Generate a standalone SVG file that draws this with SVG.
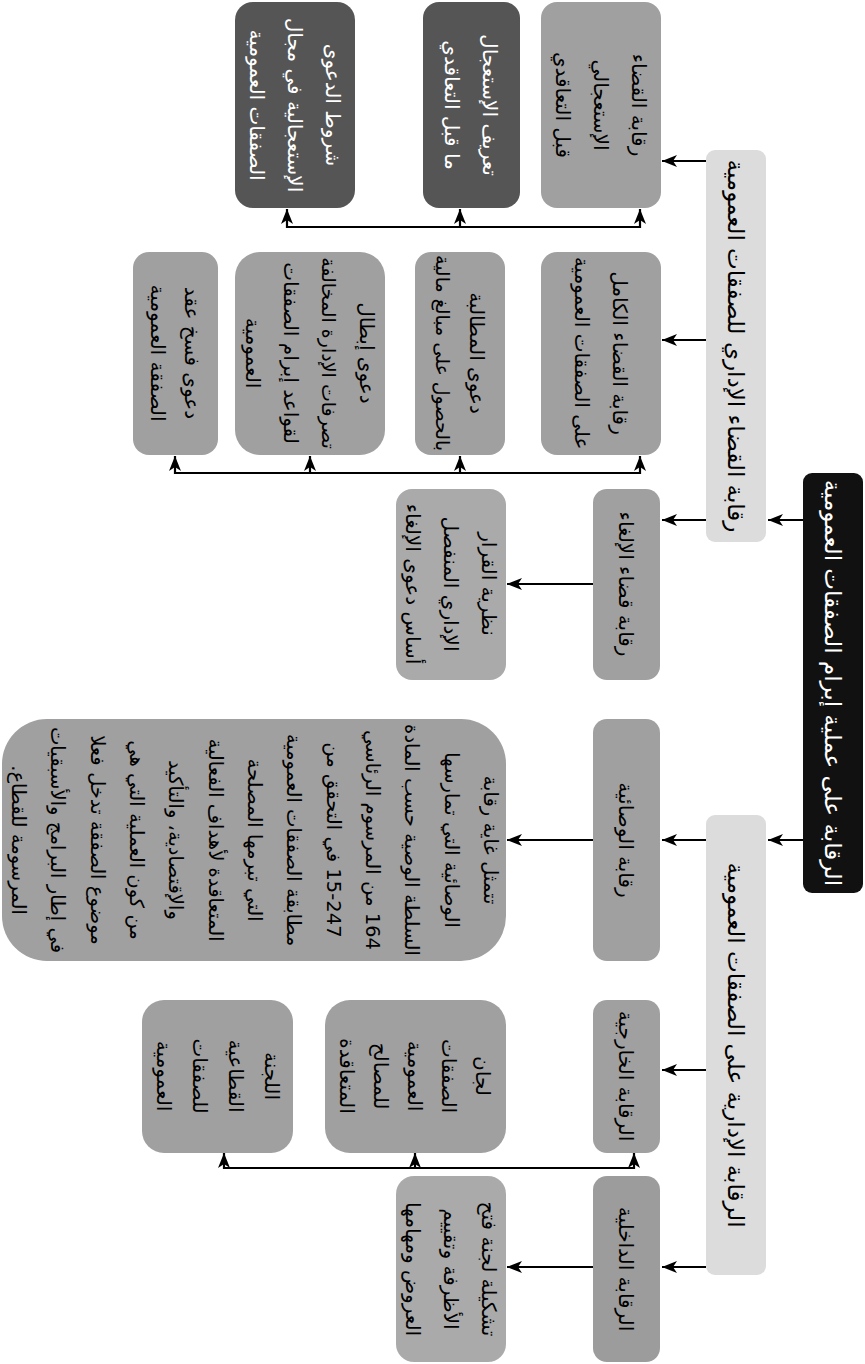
<svg xmlns="http://www.w3.org/2000/svg" width="865" height="1364" viewBox="0 0 865 1364">
<style>
text{font-family:"DejaVu Sans",sans-serif;text-anchor:middle;dominant-baseline:central;direction:rtl;fill:#000}
.t20{font-size:20px}
.t19{font-size:19px}
.t195{font-size:19.6px}
.t23{font-size:23px}
.w{fill:#fff}
.root{fill:#111}
.l1{fill:#dcdcdc}
.g{fill:#a0a0a0}
.g2{fill:#9c9c9c}
.lg{fill:#aaaaaa}
.dk{fill:#555555}
.c{fill:none;stroke:#000;stroke-width:2.2}
</style>
<defs>
<marker id="ah" markerUnits="userSpaceOnUse" markerWidth="16" markerHeight="12" refX="15" refY="6" orient="auto-start-reverse" viewBox="0 0 16 12">
<path d="M0,0 L15,6 L0,12 L4,6 Z" fill="#000"/>
</marker>
</defs>
<rect width="865" height="1364" fill="#fff"/>

<g id="connectors">
<path class="c" d="M803,520 H768" marker-end="url(#ah)"/>
<path class="c" d="M803,840 H768" marker-end="url(#ah)"/>
<path class="c" d="M706,161 H662" marker-end="url(#ah)"/>
<path class="c" d="M706,340 H662" marker-end="url(#ah)"/>
<path class="c" d="M706,520 H662" marker-end="url(#ah)"/>
<path class="c" d="M593,584 H507" marker-end="url(#ah)"/>
<path class="c" d="M706,840 H662" marker-end="url(#ah)"/>
<path class="c" d="M593,840 H507" marker-end="url(#ah)"/>
<path class="c" d="M706,1070 H662" marker-end="url(#ah)"/>
<path class="c" d="M706,1267 H662" marker-end="url(#ah)"/>
<path class="c" d="M593,1267 H507" marker-end="url(#ah)"/>
<path class="c" d="M640,209 V227 H287 V209" marker-start="url(#ah)" marker-end="url(#ah)"/>
<path class="c" d="M460,227 V209" marker-end="url(#ah)"/>
<path class="c" d="M640,456 V473 H175 V456" marker-start="url(#ah)" marker-end="url(#ah)"/>
<path class="c" d="M460,473 V456" marker-end="url(#ah)"/>
<path class="c" d="M310,473 V456" marker-end="url(#ah)"/>
<path class="c" d="M634,1153 V1168 H224 V1153" marker-start="url(#ah)" marker-end="url(#ah)"/>
<path class="c" d="M415,1168 V1153" marker-end="url(#ah)"/>
</g>

<g id="root">
<rect class="root" x="803" y="473" width="60" height="420" rx="9"/>
<g transform="translate(833,683) rotate(90)"><text class="t23 w" x="0" y="0">الرقابة على عملية إبرام الصفقات العمومية</text></g>
</g>

<g id="n-judicial">
<rect class="l1" x="706" y="150" width="60" height="392" rx="9"/>
<g transform="translate(736,346) rotate(90)"><text class="t23" x="0" y="0">رقابة القضاء الإداري للصفقات العمومية</text></g>
</g>

<g id="n-admin">
<rect class="l1" x="706" y="815" width="60" height="460" rx="9"/>
<g transform="translate(736,1045) rotate(90)"><text class="t23" x="0" y="0">الرقابة الإدارية على الصفقات العمومية</text></g>
</g>

<g id="n-urgent">
<rect class="g" x="541" y="2" width="120" height="206" rx="16"/>
<g transform="translate(601,105) rotate(90)"><text class="t20" x="0" y="-38">رقابة القضاء</text><text class="t20" x="0" y="0">الإستعجالي</text><text class="t20" x="0" y="38">قبل التعاقدي</text></g>
</g>

<g id="n-urgent-def">
<rect class="dk" x="423" y="2" width="97" height="206" rx="16"/>
<g transform="translate(471,105) rotate(90)"><text class="t20 w" x="0" y="-19">تعريف الإستعجال</text><text class="t20 w" x="0" y="19">ما قبل التعاقدي</text></g>
</g>

<g id="n-urgent-cond">
<rect class="dk" x="235" y="2" width="120" height="206" rx="18"/>
<g transform="translate(295,105) rotate(90)"><text class="t20 w" x="0" y="-38">شروط الدعوى</text><text class="t20 w" x="0" y="0">الإستعجالية في مجال</text><text class="t20 w" x="0" y="38">الصفقات العمومية</text></g>
</g>

<g id="n-full">
<rect class="g" x="541" y="252" width="120" height="203" rx="16"/>
<g transform="translate(601,353) rotate(90)"><text class="t20" x="0" y="-19">رقابة القضاء الكامل</text><text class="t20" x="0" y="19">على الصفقات العمومية</text></g>
</g>

<g id="n-claim">
<rect class="g" x="415" y="252" width="90" height="203" rx="16"/>
<g transform="translate(460,353) rotate(90)"><text class="t20" x="0" y="-17">دعوى المطالبة</text><text class="t19" x="0" y="17">بالحصول على مبالغ مالية</text></g>
</g>

<g id="n-nullity">
<rect class="g" x="235" y="252" width="150" height="203" rx="25"/>
<g transform="translate(310,353) rotate(90)"><text class="t20" x="0" y="-57">دعوى إبطال</text><text class="t19" x="0" y="-19">تصرفات الإدارة المخالفة</text><text class="t20" x="0" y="19">لقواعد إبرام الصفقات</text><text class="t20" x="0" y="57">العمومية</text></g>
</g>

<g id="n-rescission">
<rect class="g" x="133" y="252" width="85" height="203" rx="16"/>
<g transform="translate(175,353) rotate(90)"><text class="t20" x="0" y="-17">دعوى فسخ عقد</text><text class="t20" x="0" y="17">الصفقة العمومية</text></g>
</g>

<g id="n-annul">
<rect class="g" x="593" y="489" width="67" height="191" rx="14"/>
<g transform="translate(626,584) rotate(90)"><text class="t20" x="0" y="0">رقابة قضاء الإلغاء</text></g>
</g>

<g id="n-theory">
<rect class="lg" x="396" y="489" width="110" height="191" rx="16"/>
<g transform="translate(451,584) rotate(90)"><text class="t20" x="0" y="-38">نظرية القرار</text><text class="t20" x="0" y="0">الإداري المنفصل</text><text class="t20" x="0" y="38">أساس دعوى الإلغاء</text></g>
</g>

<g id="n-tutelle">
<rect class="g" x="593" y="719" width="67" height="242" rx="14"/>
<g transform="translate(626,840) rotate(90)"><text class="t20" x="0" y="0">رقابة الوصائية</text></g>
</g>

<g id="n-tutelle-desc">
<rect class="g" x="2" y="719" width="504" height="242" rx="45"/>
<g transform="translate(254,840) rotate(90)">
<text class="t195" x="0" y="-236">تتمثل غاية رقابة</text>
<text class="t195" x="0" y="-197">الوصائية التي تمارسها</text>
<text class="t195" x="0" y="-157">السلطة الوصية حسب المادة</text>
<text class="t195" x="0" y="-118">164 من المرسوم الرئاسي</text>
<text class="t195" x="0" y="-79">15-247 في التحقق من</text>
<text class="t195" x="0" y="-39">مطابقة الصفقات العمومية</text>
<text class="t195" x="0" y="0">التي تبرمها المصلحة</text>
<text class="t195" x="0" y="39">المتعاقدة لأهداف الفعالية</text>
<text class="t195" x="0" y="79">والإقتصادية، والتأكيد</text>
<text class="t195" x="0" y="118">من كون العملية التي هي</text>
<text class="t195" x="0" y="157">موضوع الصفقة تدخل فعلا</text>
<text class="t195" x="0" y="197">في إطار البرامج والأسبقيات</text>
<text class="t195" x="0" y="236">المرسومة للقطاع.</text>
</g>
</g>

<g id="n-external">
<rect class="g" x="593" y="1000" width="67" height="153" rx="14"/>
<g transform="translate(626,1076) rotate(90)"><text class="t20" x="0" y="0">الرقابة الخارجية</text></g>
</g>

<g id="n-committees">
<rect class="g" x="325" y="1000" width="181" height="153" rx="25"/>
<g transform="translate(415,1076) rotate(90)"><text class="t20" x="0" y="-68">لجان</text><text class="t20" x="0" y="-34">الصفقات</text><text class="t20" x="0" y="0">العمومية</text><text class="t20" x="0" y="34">للمصالح</text><text class="t20" x="0" y="68">المتعاقدة</text></g>
</g>

<g id="n-sectoral">
<rect class="g" x="142" y="1000" width="151" height="153" rx="22"/>
<g transform="translate(218,1076) rotate(90)"><text class="t20" x="0" y="-54">اللجنة</text><text class="t20" x="0" y="-18">القطاعية</text><text class="t20" x="0" y="18">للصفقات</text><text class="t20" x="0" y="54">العمومية</text></g>
</g>

<g id="n-internal">
<rect class="g2" x="593" y="1176" width="67" height="186" rx="14"/>
<g transform="translate(626,1269) rotate(90)"><text class="t20" x="0" y="0">الرقابة الداخلية</text></g>
</g>

<g id="n-opening">
<rect class="lg" x="396" y="1176" width="110" height="186" rx="18"/>
<g transform="translate(451,1269) rotate(90)"><text class="t20" x="0" y="-38">تشكيلة لجنة فتح</text><text class="t20" x="0" y="0">الأظرفة وتقييم</text><text class="t20" x="0" y="38">العروض ومهامها</text></g>
</g>
</svg>
